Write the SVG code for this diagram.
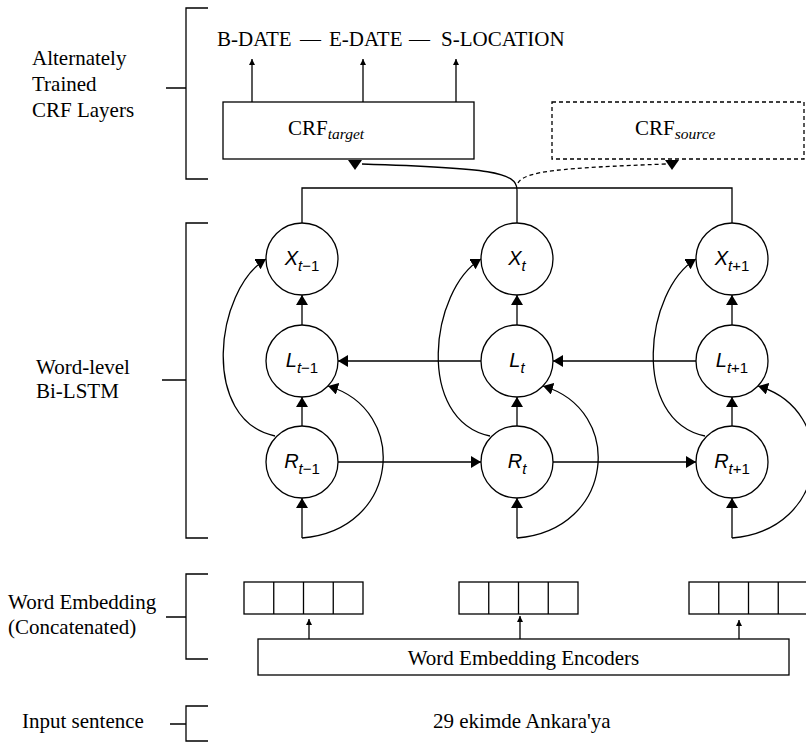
<svg xmlns="http://www.w3.org/2000/svg" width="806" height="742" viewBox="0 0 806 742">
  <style>
    .ln { fill: none; stroke: #000; stroke-width: 1.3; }
    .dash { fill: none; stroke: #000; stroke-width: 1.3; stroke-dasharray: 4 3; }
    .box { fill: #fff; stroke: #000; stroke-width: 1.3; }
    .dbox { fill: #fff; stroke: #000; stroke-width: 1.3; stroke-dasharray: 4 3; }
    .node { fill: #fff; stroke: #000; stroke-width: 1.3; }
    .serif { font-family: "Liberation Serif", "Times New Roman", serif; font-size: 21px; fill: #000; }
    .sans { font-family: "Liberation Sans", Arial, sans-serif; font-size: 20px; fill: #000; }
    .it { font-style: italic; }
    .sub { font-size: 15px; }
    .head { fill: #000; stroke: none; }
  </style>
  <defs>
    <marker id="big" viewBox="0 0 10 12" refX="10" refY="6" markerWidth="10" markerHeight="12" markerUnits="userSpaceOnUse" orient="auto">
      <path d="M0,0 L10,6 L0,12 z" class="head"/>
    </marker>
    <marker id="small" viewBox="0 0 6 6" refX="6" refY="3" markerWidth="6" markerHeight="6" markerUnits="userSpaceOnUse" orient="auto">
      <path d="M0,0 L6,3 L0,6 z" class="head"/>
    </marker>
  </defs>

  <!-- Brackets and layer labels -->
  <g id="bracket-crf">
    <path class="ln" d="M208,8 H186 V179 H208 M166,88 H186"/>
    <text class="serif" x="32" y="65">Alternately</text>
    <text class="serif" x="32" y="91">Trained</text>
    <text class="serif" x="32" y="117">CRF Layers</text>
  </g>
  <g id="bracket-lstm">
    <path class="ln" d="M208,223 H186 V538 H208 M162,380 H186"/>
    <text class="serif" x="36" y="374">Word-level</text>
    <text class="serif" x="36" y="398">Bi-LSTM</text>
  </g>
  <g id="bracket-embedding">
    <path class="ln" d="M208,574 H186 V659 H208 M166,617 H186"/>
    <text class="serif" x="8" y="609">Word Embedding</text>
    <text class="serif" x="8" y="634">(Concatenated)</text>
  </g>
  <g id="bracket-input">
    <path class="ln" d="M208,706 H186 V741 H208 M170,724 H186"/>
    <text class="serif" x="22" y="728">Input sentence</text>
  </g>

  <!-- Output tag sequence -->
  <g id="tags">
    <text class="serif" y="46"><tspan x="217">B-DATE</tspan><tspan x="300">—</tspan><tspan x="329">E-DATE</tspan><tspan x="409">—</tspan><tspan x="441">S-LOCATION</tspan></text>
  </g>

  <!-- CRF layers -->
  <g id="crf-target">
    <rect class="box" x="223" y="102" width="251" height="57"/>
    <text class="serif" x="288" y="135">CRF<tspan class="it" font-size="15.5" dy="4">target</tspan></text>
  </g>
  <g id="crf-source">
    <rect class="dbox" x="552" y="102" width="252" height="57"/>
    <text class="serif" x="635" y="135">CRF<tspan class="it" font-size="15.5" dy="4">source</tspan></text>
  </g>

  <!-- Connectors -->
  <g id="connectors">
    <!-- CRF target to tags -->
    <path class="ln" d="M252,102 V59" marker-end="url(#small)"/>
    <path class="ln" d="M363,102 V59" marker-end="url(#small)"/>
    <path class="ln" d="M456,102 V59" marker-end="url(#small)"/>

    <!-- hidden states to CRF layers -->
    <path class="ln" d="M302,223 V188 H732 V223"/>
    <path class="ln" d="M517,223 V190 C517,172 490,168 362,164"/>
    <polygon class="head" points="348,160 362,160 355,170"/>
    <path class="dash" d="M518,183 C525,171 560,168 666,164"/>
    <polygon class="head" points="665,160 679,160 672,170"/>

    <!-- column t-1 -->
    <path class="ln" d="M302,325 V295" marker-end="url(#big)"/>
    <path class="ln" d="M302,426 V397" marker-end="url(#big)"/>
    <path class="ln" d="M302,538 V498" marker-end="url(#big)"/>
    <path class="ln" d="M275,436 C200,420 215,290 266,259" marker-end="url(#big)"/>
    <path class="ln" d="M302,538 C400,530 410,410 328,386" marker-end="url(#big)"/>

    <!-- column t -->
    <path class="ln" d="M517,325 V295" marker-end="url(#big)"/>
    <path class="ln" d="M517,426 V397" marker-end="url(#big)"/>
    <path class="ln" d="M517,538 V498" marker-end="url(#big)"/>
    <path class="ln" d="M490,436 C415,420 430,290 481,259" marker-end="url(#big)"/>
    <path class="ln" d="M517,538 C615,530 625,410 543,386" marker-end="url(#big)"/>

    <!-- column t+1 -->
    <path class="ln" d="M732,325 V295" marker-end="url(#big)"/>
    <path class="ln" d="M732,426 V397" marker-end="url(#big)"/>
    <path class="ln" d="M732,538 V498" marker-end="url(#big)"/>
    <path class="ln" d="M705,436 C630,420 645,290 696,259" marker-end="url(#big)"/>
    <path class="ln" d="M732,538 C830,530 840,410 758,386" marker-end="url(#big)"/>

    <!-- backward (L) and forward (R) recurrences -->
    <path class="ln" d="M481,361 H338" marker-end="url(#big)"/>
    <path class="ln" d="M696,361 H553" marker-end="url(#big)"/>
    <path class="ln" d="M338,462 H481" marker-end="url(#big)"/>
    <path class="ln" d="M553,462 H696" marker-end="url(#big)"/>

    <!-- encoders to embeddings -->
    <path class="ln" d="M309,639 V619" marker-end="url(#small)"/>
    <path class="ln" d="M520,639 V616" marker-end="url(#small)"/>
    <path class="ln" d="M739,639 V620" marker-end="url(#small)"/>
  </g>

  <!-- Bi-LSTM nodes -->
  <g id="x-tm1">
    <circle class="node" cx="302" cy="259" r="36"/>
    <text class="sans" x="302" y="265" text-anchor="middle"><tspan class="it">X</tspan><tspan class="sub it" dy="6">t</tspan><tspan class="sub">−1</tspan></text>
  </g>
  <g id="l-tm1">
    <circle class="node" cx="302" cy="361" r="36"/>
    <text class="sans" x="302" y="367" text-anchor="middle"><tspan class="it">L</tspan><tspan class="sub it" dy="6">t</tspan><tspan class="sub">−1</tspan></text>
  </g>
  <g id="r-tm1">
    <circle class="node" cx="302" cy="462" r="36"/>
    <text class="sans" x="302" y="468" text-anchor="middle"><tspan class="it">R</tspan><tspan class="sub it" dy="6">t</tspan><tspan class="sub">−1</tspan></text>
  </g>
  <g id="x-t">
    <circle class="node" cx="517" cy="259" r="36"/>
    <text class="sans" x="517" y="265" text-anchor="middle"><tspan class="it">X</tspan><tspan class="sub it" dy="6">t</tspan></text>
  </g>
  <g id="l-t">
    <circle class="node" cx="517" cy="361" r="36"/>
    <text class="sans" x="517" y="367" text-anchor="middle"><tspan class="it">L</tspan><tspan class="sub it" dy="6">t</tspan></text>
  </g>
  <g id="r-t">
    <circle class="node" cx="517" cy="462" r="36"/>
    <text class="sans" x="517" y="468" text-anchor="middle"><tspan class="it">R</tspan><tspan class="sub it" dy="6">t</tspan></text>
  </g>
  <g id="x-tp1">
    <circle class="node" cx="732" cy="259" r="36"/>
    <text class="sans" x="732" y="265" text-anchor="middle"><tspan class="it">X</tspan><tspan class="sub it" dy="6">t</tspan><tspan class="sub">+1</tspan></text>
  </g>
  <g id="l-tp1">
    <circle class="node" cx="732" cy="361" r="36"/>
    <text class="sans" x="732" y="367" text-anchor="middle"><tspan class="it">L</tspan><tspan class="sub it" dy="6">t</tspan><tspan class="sub">+1</tspan></text>
  </g>
  <g id="r-tp1">
    <circle class="node" cx="732" cy="462" r="36"/>
    <text class="sans" x="732" y="468" text-anchor="middle"><tspan class="it">R</tspan><tspan class="sub it" dy="6">t</tspan><tspan class="sub">+1</tspan></text>
  </g>

  <!-- Concatenated word embeddings -->
  <g id="emb-1">
    <rect class="box" x="244" y="582" width="119" height="32"/>
    <path class="ln" d="M273.75,582 V614 M303.5,582 V614 M333.25,582 V614"/>
  </g>
  <g id="emb-2">
    <rect class="box" x="459" y="582" width="119" height="32"/>
    <path class="ln" d="M488.75,582 V614 M518.5,582 V614 M548.25,582 V614"/>
  </g>
  <g id="emb-3">
    <rect class="box" x="689" y="582" width="119" height="32"/>
    <path class="ln" d="M718.75,582 V614 M748.5,582 V614 M778.25,582 V614"/>
  </g>

  <g id="encoders">
    <rect class="box" x="258" y="639" width="531" height="36"/>
    <text class="serif" x="523.5" y="665" text-anchor="middle">Word Embedding Encoders</text>
  </g>

  <g id="sentence">
    <text class="serif" x="433" y="728">29 ekimde Ankara'ya</text>
  </g>
</svg>
